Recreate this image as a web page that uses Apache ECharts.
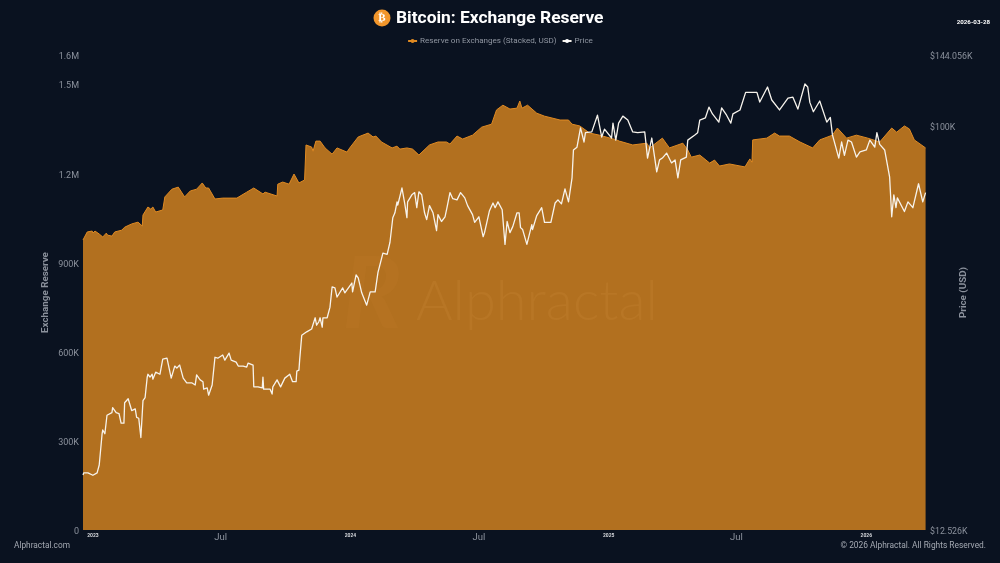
<!DOCTYPE html>
<html><head><meta charset="utf-8">
<style>html,body{margin:0;padding:0;background:#0a1220}#c{width:1000px;height:563px}</style>
<script src="https://cdn.jsdelivr.net/npm/echarts@6/dist/echarts.min.js"></script>
</head><body><div id="c"></div>
<script>
const titleText = 'Bitcoin: Exchange Reserve';
const reserveName = 'Reserve on Exchanges (Stacked, USD)';
const priceName = 'Price';
const startDate = '2022-12-18';
const endDay = 1196;
const reserveTicks = [0,300,600,900,1200,1500,1600];
const priceTicks = [12.526,100,144.056];
const xTickDates = ['2023-01-01','2023-07-01','2024-01-01','2024-07-01','2025-01-01','2025-07-01','2026-01-01'];
const xTickLabels = ['2023','Jul','2024','Jul','2025','Jul','2026'];

const reserveDays = [0,6,13,14,17,23,28,33,35,41,45,55,59,69,78,84,85,92,96,99,103,113,116,126,135,144,152,161,169,174,178,187,198,218,232,242,255,258,275,276,283,292,299,306,314,316,324,326,330,336,343,353,360,374,378,390,404,411,415,423,438,445,449,459,467,476,491,503,515,520,530,538,552,565,579,586,595,605,615,619,622,630,643,654,676,688,693,704,718,732,756,760,779,799,803,821,831,850,857,862,874,888,895,902,916,938,945,948,949,969,980,987,1001,1016,1034,1044,1062,1069,1082,1096,1112,1129,1146,1153,1164,1171,1178,1194];
const reserveK = [977,1004,1007,1000,1007,997,987,1000,993,990,1004,1010,1020,1031,1037,1024,1061,1088,1081,1088,1071,1078,1122,1148,1155,1122,1142,1148,1169,1152,1152,1115,1118,1118,1138,1152,1132,1138,1125,1165,1172,1165,1199,1169,1179,1297,1290,1276,1310,1310,1287,1266,1287,1273,1287,1324,1337,1324,1327,1307,1287,1293,1283,1287,1283,1263,1297,1307,1307,1300,1327,1317,1330,1357,1367,1415,1431,1418,1421,1445,1421,1431,1404,1394,1381,1381,1367,1361,1337,1330,1314,1310,1297,1303,1287,1320,1287,1303,1280,1256,1263,1236,1246,1226,1233,1223,1250,1239,1314,1320,1337,1327,1327,1307,1287,1314,1330,1354,1320,1330,1320,1307,1354,1340,1361,1351,1314,1287];

const priceDays = [0,1,7,14,20,23,27,28,31,34,41,42,47,51,54,58,59,64,69,74,76,79,82,85,88,91,92,95,98,99,103,109,113,119,125,130,133,137,142,147,154,159,161,166,170,171,176,178,183,187,191,198,201,207,210,217,220,227,232,234,241,242,248,254,255,256,265,268,269,275,280,286,293,297,302,303,306,307,310,317,324,329,331,334,336,339,340,346,350,353,357,360,368,371,381,382,387,390,395,402,407,414,418,425,431,435,439,442,445,446,452,456,459,460,466,470,473,476,480,484,487,491,496,501,503,508,513,516,520,524,530,535,541,545,552,555,561,567,569,576,581,584,588,594,598,601,605,609,615,618,620,623,629,636,637,643,650,654,663,669,673,678,683,688,693,695,700,705,710,712,721,729,735,739,749,751,755,759,761,765,772,779,786,796,800,806,810,813,817,821,827,834,839,843,847,855,857,867,871,874,882,887,892,901,905,912,918,921,931,939,948,955,959,970,976,987,999,1006,1013,1023,1027,1030,1035,1044,1054,1059,1062,1071,1075,1079,1084,1089,1096,1101,1110,1115,1122,1125,1129,1136,1143,1146,1149,1152,1154,1164,1169,1176,1184,1190,1194];
const priceK = [16.62,16.8,16.8,16.6,16.8,17.5,20.5,20.95,20.55,22.6,22.9,23.5,22.9,22.8,21.7,21.7,24.1,24.6,23.15,23.35,22.35,22.25,20.15,24.35,24.75,27.5,27.9,27.5,27.9,27.2,28.2,27.9,30.15,30.3,27.35,29.1,28.8,29.25,27.35,26.7,26.7,26.4,27.8,27.1,26.85,25.85,26.0,25.05,26.4,30.45,30.3,30.8,30.0,31.1,30.0,29.7,29.1,29.1,28.95,29.55,29.25,26.15,26.15,26.0,27.5,25.85,25.85,25.2,26.15,27.1,26.15,27.35,27.9,26.85,26.85,28.35,28.5,30.0,34.1,34.7,35.2,37.3,35.9,36.5,37.3,35.55,37.3,37.3,39.4,43.7,43.5,41.5,43.5,42.4,44.6,42.6,46.5,45.8,42.4,39.8,42.6,42.6,47.1,52.0,51.7,55.0,62.4,64.0,67.7,66.6,72.7,67.0,62.4,67.7,70.2,71.0,65.7,71.3,70.2,64.0,61.8,66.4,64.0,58.4,63.4,61.2,62.7,66.0,71.0,68.8,68.4,71.0,69.1,66.4,63.4,60.9,62.7,56.6,57.8,64.7,67.3,65.7,67.7,65.0,54.4,61.2,57.8,59.6,64.0,64.0,59.3,58.7,54.4,60.2,58.7,63.1,65.7,60.9,60.9,67.3,68.4,67.0,72.4,67.7,76.6,88.4,89.7,99.0,92.1,96.6,97.0,105.7,94.5,98.4,94.0,101.5,93.0,101.5,102,105.2,103.1,97,96.6,97,84.8,94,85.2,79,84,84.8,87,82.7,84,76.6,84,85.2,93,95.5,96.6,103.1,104.3,110.2,106.4,102,109.7,105.7,101.5,106.4,108.6,118.9,118.9,118.9,113.1,122.2,114.3,108.6,115.4,116,109.1,124.1,122.2,112.9,107.6,113.7,102,104.5,95.5,84.8,92.1,86,93,92.1,85.2,87.5,88.4,93,89.7,96.6,91,88.4,77,62.7,70.2,65.7,69.1,64.4,67.7,65.7,74.3,67.7,71];

const DAY = 86400000;
const t0 = Date.parse(startDate + 'T00:00:00Z');
const reserveData = reserveDays.map((d,i)=>[d, reserveK[i]]);
const priceData = priceDays.map((d,i)=>[d, priceK[i]]);
const xTicks = xTickDates.map(s=>(Date.parse(s+'T00:00:00Z')-t0)/DAY);
const grey = '#8b919c';

const chart = echarts.init(document.getElementById('c'), null, {renderer:'canvas'});
chart.setOption({
  animation:false,
  backgroundColor:'#0a1220',
  textStyle:{fontFamily:'Roboto'},
  title:[
    {text:titleText,left:396,top:10,padding:0,textStyle:{color:'#ffffff',fontSize:17.4,fontWeight:'bold',fontFamily:'Roboto'}},
    {text:'2026-03-28',right:10,top:19,padding:0,textStyle:{color:'#ffffff',fontSize:6.2,fontWeight:'bold',fontFamily:'Roboto'}},
    {text:'Alphractal.com',left:14,top:542,padding:0,textStyle:{color:'#a4a9b2',fontSize:8.3,fontWeight:'normal',fontFamily:'Roboto'}},
    {text:'© 2026 Alphractal. All Rights Reserved.',right:14,top:542,padding:0,textStyle:{color:'#a4a9b2',fontSize:8.4,fontWeight:'normal',fontFamily:'Roboto'}}
  ],
  legend:{top:32,left:'center',itemWidth:9,itemHeight:5,itemGap:5,
    textStyle:{color:'#9096a1',fontSize:8.1,fontFamily:'Roboto',padding:[0,0,0,-2]},
    data:[reserveName,priceName]},
  grid:{left:83,right:73,top:55,bottom:33,outerBoundsMode:'none'},
  xAxis:{type:'value',min:0,max:endDay,
    axisLine:{show:false},axisTick:{show:false},splitLine:{show:false},
    axisLabel:{customValues:xTicks,margin:3,showMinLabel:true,showMaxLabel:true,hideOverlap:false,
      formatter:function(v){const i=xTicks.indexOf(v);const s=xTickLabels[i];return s==='Jul'?'{m|Jul}':'{y|'+s+'}';},
      rich:{m:{color:grey,fontSize:9.5,fontFamily:'Roboto'},y:{color:'#d5d7db',fontSize:5,fontWeight:'bold',fontFamily:'Roboto',padding:[0,0,4,0]}}}},
  yAxis:[
    {type:'value',min:0,max:1600,position:'left',name:'Exchange Reserve',nameLocation:'middle',nameGap:32,nameMoveOverlap:false,
      nameTextStyle:{color:grey,fontSize:9.8,fontWeight:'bold',fontFamily:'Roboto'},
      axisLine:{show:false},axisTick:{show:false},splitLine:{show:false},
      axisLabel:{customValues:reserveTicks,margin:4,
        formatter:v=>'{a|'+(v===0?'0':(v>=1000?(v/1000)+'M':v+'K'))+'}',
        rich:{a:{color:grey,fontSize:9,fontFamily:'Roboto',padding:[3,0,0,0]}}}},
    {type:'log',logBase:10,min:12.526,max:144.056,position:'right',name:'Price (USD)',nameLocation:'middle',nameGap:32,nameMoveOverlap:false,
      nameTextStyle:{color:grey,fontSize:9.8,fontWeight:'bold',fontFamily:'Roboto'},
      axisLine:{show:false},axisTick:{show:false},splitLine:{show:false},minorSplitLine:{show:false},
      axisLabel:{customValues:priceTicks,margin:3,
        formatter:v=>'{a|$'+(Math.round(v*1000)/1000)+'K}',
        rich:{a:{color:grey,fontSize:8.8,fontFamily:'Roboto',padding:[3,0,0,0]}}}}
  ],
  series:[
    {name:reserveName,type:'line',yAxisIndex:0,data:reserveData,symbol:'circle',symbolSize:4,showSymbol:false,
      lineStyle:{color:'#e08a22',width:1},itemStyle:{color:'#e08a22'},areaStyle:{color:'#b2701f',opacity:1},z:2},
    {name:priceName,type:'line',yAxisIndex:1,data:priceData,symbol:'circle',symbolSize:4,showSymbol:false,
      lineStyle:{color:'#f7f3ec',width:1.3,join:'round'},itemStyle:{color:'#ffffff'},z:4}
  ],
  graphic:[
    {type:'circle',shape:{cx:382,cy:18,r:8.5},style:{fill:'#f2962b'},z:10},
    {type:'text',style:{x:382,y:18,text:'₿',fill:'#ffffff',font:'bold 11px "DejaVu Sans"',align:'center',verticalAlign:'middle'},z:11},
    {type:'text',style:{x:416,y:302,text:'Alphractal',fill:'rgba(255,190,110,0.08)',font:'300 56px Lato',align:'left',verticalAlign:'middle'},z:3},
    {type:'text',style:{x:372,y:296,text:'R',fill:'rgba(255,190,110,0.04)',font:'bold italic 100px Lato',align:'center',verticalAlign:'middle'},z:3}
  ]
});
</script></body></html>
